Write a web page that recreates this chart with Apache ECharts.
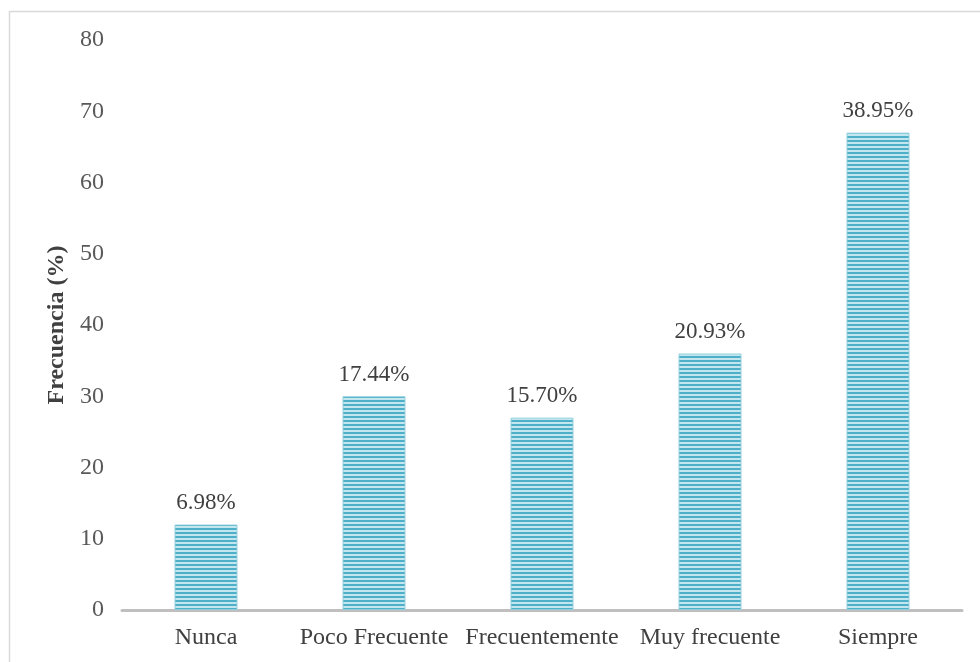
<!DOCTYPE html>
<html>
<head>
<meta charset="utf-8">
<script src="https://cdn.jsdelivr.net/npm/echarts@6/dist/echarts.min.js"></script>
<style>
html,body{margin:0;padding:0;background:#fff;}
#c{width:980px;height:662px;}
</style>
</head>
<body>
<div id="c"></div>
<script>
const categories = ['Nunca', 'Poco Frecuente', 'Frecuentemente', 'Muy frecuente', 'Siempre'];
const values = [12, 30, 27, 36, 67];
const percentLabels = ['6.98%', '17.44%', '15.70%', '20.93%', '38.95%'];
const yTicks = [0, 10, 20, 30, 40, 50, 60, 70, 80];

const pc = document.createElement('canvas');
pc.width = 4; pc.height = 4;
const ctx = pc.getContext('2d');
ctx.fillStyle = '#c4e6ef';
ctx.fillRect(0, 0, 4, 4);
ctx.fillStyle = '#4eafc8';
ctx.fillRect(0, 0, 4, 2);

const chart = echarts.init(document.getElementById('c'), null, {renderer: 'canvas'});
const font = '"Liberation Serif", "Times New Roman", serif';
chart.setOption({
  animation: false,
  graphic: [{
    type: 'rect',
    shape: {x: 9.5, y: 11.5, width: 1000, height: 700},
    style: {fill: 'none', stroke: '#d9d9d9', lineWidth: 1.5},
    silent: true
  }],
  grid: {left: 122, right: 18, top: 40, bottom: 52},
  xAxis: {
    type: 'category',
    data: categories,
    axisLine: {lineStyle: {color: '#bfbfbf', width: 3}},
    axisTick: {show: false},
    axisLabel: {color: '#404040', fontFamily: font, fontSize: 24, margin: 16, interval: 0}
  },
  yAxis: {
    type: 'value',
    min: yTicks[0],
    max: yTicks[yTicks.length - 1],
    interval: 10,
    name: 'Frecuencia (%)',
    nameLocation: 'middle',
    nameGap: 53,
    nameTextStyle: {color: '#404040', fontFamily: font, fontSize: 24, fontWeight: 'bold'},
    axisLine: {show: false},
    axisTick: {show: false},
    splitLine: {show: false},
    axisLabel: {color: '#595959', fontFamily: font, fontSize: 24, margin: 18}
  },
  series: [{
    type: 'bar',
    data: values,
    barWidth: '37.5%',
    itemStyle: {color: {image: pc, repeat: 'repeat'}, borderColor: '#92cfde', borderWidth: 1},
    label: {
      show: true,
      position: 'top',
      distance: 10,
      color: '#404040',
      fontFamily: font,
      fontSize: 23,
      formatter: p => percentLabels[p.dataIndex]
    }
  }]
});
</script>
</body>
</html>
